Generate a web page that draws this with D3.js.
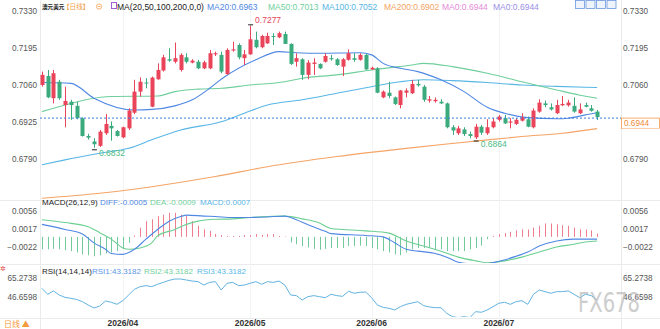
<!DOCTYPE html>
<html>
<head>
<meta charset="utf-8">
<script src="https://cdn.jsdelivr.net/npm/d3@7"></script>
<style>
  body { margin: 0; background: #fff; }
  svg { display: block; font-family: "Liberation Sans", Arial, sans-serif; }
</style>
</head>
<body>
<svg id="chart" width="660" height="329"></svg>
<script>
// first trading day shown, month labels on the time axis
const startDate = '2026-03-12';
const monthTicks = ['2026/04', '2026/05', '2026/06', '2026/07'];

// daily candles, AUD/USD
const open = [.7061,.7094,.7013,.7073,.6988,.7000,.6985,.6940,.6875,.6855,.6839,.6885,.6912,.6893,.6870,.6903,.6960,.7037,.7070,.6982,
  .7082,.7114,.7155,.7146,.7116,.7162,.7143,.7146,.7122,.7122,.7173,.7171,.7101,.7187,.7207,.7159,.7173,.7226,.7199,.7213,
  .7240,.7235,.7247,.7211,.7146,.7155,.7098,.7138,.7138,.7146,.7159,.7155,.7128,.7153,.7159,.7153,.7171,.7118,.7122,.7016,
  .7033,.7016,.6988,.7033,.7031,.7065,.7055,.7004,.7002,.7000,.6994,.6907,.6885,.6899,.6882,.6870,.6909,.6885,.6907,.6934,
  .6940,.6924,.6919,.6931,.6936,.6907,.6964,.6994,.6980,.6958,.6987,.6987,.6985,.6958,.6988,.6976,.6964];
const high = [.7110,.7116,.7116,.7080,.7055,.7007,.7000,.6943,.6883,.6867,.6897,.6955,.6928,.6897,.6909,.6976,.7080,.7089,.7086,.7092,
  .7140,.7171,.7195,.7216,.7177,.7177,.7155,.7153,.7150,.7189,.7183,.7183,.7195,.7219,.7213,.7189,.7277,.7256,.7244,.7252,
  .7250,.7256,.7256,.7213,.7177,.7159,.7152,.7159,.7140,.7177,.7171,.7159,.7159,.7191,.7177,.7177,.7174,.7128,.7126,.7041,
  .7073,.7019,.7043,.7049,.7080,.7080,.7061,.7021,.7016,.7009,.6997,.6915,.6912,.6907,.6891,.6919,.6915,.6936,.6940,.6952,
  .6952,.6940,.6940,.6958,.6946,.6976,.7009,.7004,.6994,.7007,.7021,.7007,.7016,.6994,.6997,.6988,.6970];
const low = [.7055,.7013,.6994,.7007,.6907,.6934,.6936,.6873,.6862,.6832,.6835,.6879,.6858,.6873,.6867,.6897,.6955,.7019,.7049,.6980,
  .7080,.7110,.7146,.7140,.7110,.7140,.7140,.7119,.7119,.7119,.7167,.7104,.7098,.7183,.7155,.7134,.7171,.7195,.7195,.7211,
  .7207,.7232,.7211,.7134,.7128,.7080,.7082,.7098,.7119,.7143,.7150,.7131,.7094,.7150,.7146,.7150,.7116,.7116,.7031,.7013,
  .7013,.6988,.6976,.7016,.7028,.7055,.7000,.6997,.6997,.6992,.6903,.6879,.6879,.6875,.6867,.6864,.6879,.6879,.6903,.6928,
  .6919,.6903,.6915,.6928,.6907,.6903,.6960,.6980,.6968,.6955,.6985,.6982,.6960,.6955,.6980,.6964,.6933];
const close = [.7098,.7016,.7104,.7013,.7003,.6988,.6940,.6875,.6869,.6845,.6891,.6919,.6903,.6875,.6907,.6968,.7037,.7073,.7067,.7088,
  .7116,.7162,.7150,.7159,.7171,.7146,.7150,.7122,.7144,.7177,.7177,.7110,.7189,.7191,.7162,.7173,.7228,.7199,.7240,.7240,
  .7238,.7250,.7211,.7138,.7159,.7098,.7143,.7143,.7122,.7167,.7155,.7134,.7155,.7177,.7153,.7171,.7118,.7124,.7033,.7037,
  .7021,.6992,.7041,.7041,.7065,.7060,.7007,.7009,.7007,.6994,.6907,.6895,.6903,.6882,.6875,.6909,.6887,.6907,.6928,.6946,
  .6921,.6928,.6934,.6943,.6909,.6968,.6997,.6988,.6972,.6988,.6992,.6997,.6964,.6972,.6982,.6967,.6944];

// moving averages as [candle index, value]
const ma20 = [[0,.7070],[5,.7067],[9,.7013],[16,.6970],[19,.6972],[23,.6985],[26,.7007],[29,.7049],[31,.7082],[37,.7153],
  [41,.7183],[44,.7179],[48,.7177],[55,.7179],[57,.7171],[59,.7140],[62,.7122],[65,.7110],[69,.7080],[73,.7037],[77,.6980],
  [80,.6958],[84,.6942],[89,.6938],[91,.6940],[94,.6952],[96,.6960]];
const ma50 = [[0,.6964],[4,.6988],[8,.7009],[12,.7019],[20,.7021],[23,.7037],[27,.7046],[31,.7049],[36,.7061],[42,.7073],
  [45,.7086],[51,.7098],[57,.7116],[64,.7134],[66,.7140],[71,.7128],[77,.7104],[83,.7073],[89,.7043],[93,.7024],[96,.7013]];
const ma100 = [[0,.6770],[4,.6788],[10,.6812],[15,.6830],[19,.6861],[24,.6897],[31,.6927],[35,.6958],[39,.6988],[45,.7007],
  [51,.7031],[57,.7055],[62,.7073],[66,.7080],[71,.7077],[77,.7070],[83,.7061],[89,.7056],[94,.7053],[96,.7052]];
const ma200 = [[0,.6648],[10,.6666],[19,.6690],[30,.6727],[39,.6763],[51,.6800],[63,.6830],[71,.6848],[77,.6861],[83,.6873],
  [90,.6885],[96,.6902]];

// MACD(26,12,9)
const macdHist = [-.0027,-.0027,-.0026,-.0027,-.0029,-.0031,-.0034,-.0038,-.0040,-.0042,-.0040,-.0036,-.0034,-.0031,-.0026,-.0013,
  .0003,.0020,.0034,.0038,.0045,.0048,.0052,.0052,.0048,.0045,.0034,.0024,.0016,.0013,.0006,.0004,.0002,.0002,.0002,.0004,
  .0004,.0006,.0004,.0006,.0006,.0002,.0001,-.0012,-.0016,-.0020,-.0023,-.0026,-.0028,-.0026,-.0024,-.0024,-.0024,-.0020,
  -.0020,-.0019,-.0020,-.0024,-.0027,-.0031,-.0034,-.0038,-.0040,-.0034,-.0027,-.0024,-.0024,-.0024,-.0027,-.0027,-.0031,
  -.0031,-.0031,-.0031,-.0027,-.0024,-.0019,-.0005,.0002,.0006,.0008,.0011,.0014,.0016,.0016,.0020,.0024,.0029,.0029,.0027,
  .0025,.0024,.0020,.0016,.0016,.0014,.0007];
const diff = [[0,.0027],[4,.0016],[7,.0006],[9,-.0013],[11,-.0027],[12,-.0036],[14,-.0038],[16,-.0027],[18,-.0005],[20,.0016],
  [22,.0034],[24,.0044],[25,.0047],[28,.0045],[30,.0044],[33,.0042],[36,.0042],[39,.0043],[42,.0045],[44,.0037],[46,.0026],
  [49,.0012],[50,.0007],[56,.0003],[59,.0000],[61,-.0013],[63,-.0027],[65,-.0031],[68,-.0036],[70,-.0044],[72,-.0055],
  [75,-.0059],[77,-.0058],[80,-.0050],[82,-.0042],[84,-.0033],[86,-.0020],[89,-.0009],[92,-.0005],[94,-.0005],[96,-.0005]];
const dea = [[0,.0037],[4,.0031],[8,.0022],[10,.0009],[12,-.0005],[14,-.0024],[15,-.0027],[17,-.0024],[19,-.0013],[20,.0002],
  [23,.0016],[25,.0027],[27,.0034],[30,.0038],[33,.0039],[36,.0042],[39,.0044],[42,.0045],[45,.0039],[48,.0030],[50,.0018],
  [56,.0013],[60,.0008],[63,-.0009],[66,-.0020],[69,-.0031],[72,-.0044],[75,-.0052],[77,-.0056],[80,-.0052],[83,-.0044],
  [86,-.0033],[89,-.0022],[92,-.0016],[94,-.0011],[96,-.0009]];

// RSI(14,14,14) - the three lines coincide
const rsi = [54.9,49.0,52.3,48.3,46.0,45.1,44.0,41.8,38.5,35.6,37.5,42.5,41.2,39.2,42.8,48.3,53.9,56.5,57.5,56.5,
  58.8,60.7,62.7,64.0,64.0,63.0,62.0,61.4,58.1,60.7,61.4,53.2,59.8,60.7,57.5,58.1,59.8,61.4,58.8,61.4,
  60.7,62.0,58.1,48.3,47.7,43.4,46.7,47.7,46.7,45.7,49.0,47.7,47.0,52.0,50.0,51.0,51.2,45.7,38.5,36.2,
  35.3,33.7,36.9,39.2,40.5,41.8,37.9,36.6,35.9,35.9,30.4,27.1,26.2,27.1,26.2,32.0,31.4,33.7,36.9,40.2,
  41.2,39.2,41.8,42.8,39.2,49.0,53.2,51.6,50.0,51.6,51.6,52.3,49.0,45.7,49.0,47.7,43.3];

const priceTicks = [0.7330, 0.7195, 0.7060, 0.6925, 0.6790];
const macdTicks = [0.0056, 0.0017, -0.0022];
const rsiTicks = [65.2738, 46.6598];
const lastPrice = 0.6944;

const maHeader = ['MA20:0.6963', 'MA50:0.7013', 'MA100:0.7052', 'MA200:0.6902', 'MA0:0.6944', 'MA0:0.6944'];
const macdHeader = ['DIFF:-0.0005', 'DEA:-0.0009', 'MACD:0.0007'];
const rsiHeader = ['RSI1:43.3182', 'RSI2:43.3182', 'RSI3:43.3182'];

// ---------------------------------------------------------------
const RED = '#e9445a', GREEN = '#3bab7e';
const C_MA20 = '#4f88e3', C_MA50 = '#6fcf9c', C_MA100 = '#58b6e6', C_MA200 = '#f4a466';
const svg = d3.select('#chart');
const plotL = 40, plotR = 621;

// trading days (weekdays) from the start date
const dates = [];
let dt = new Date(startDate + 'T00:00:00');
while (dates.length < close.length) {
  if (dt.getDay() !== 0 && dt.getDay() !== 6) dates.push(new Date(dt));
  dt.setDate(dt.getDate() + 1);
}
const fmtMonth = d3.timeFormat('%Y/%m');
const tickIdx = monthTicks.map(m => dates.findIndex(d => fmtMonth(d) === m));

const x = d3.scaleBand().domain(d3.range(close.length)).range([39, 600]);
const cx = i => x(i) + x.bandwidth() / 2;
const yP = d3.scaleLinear().domain([0.6790, 0.7330]).range([159.3, 11.3]);
const yM = d3.scaleLinear().domain([-0.0022, 0.0056]).range([247, 211]);
const yR = d3.scaleLinear().domain([46.6598, 65.2738]).range([296.7, 277.7]);

const defs = svg.append('defs');
[['clipMain', 0, 199], ['clipMacd', 201, 263], ['clipRsi', 265, 317]].forEach(c => {
  defs.append('clipPath').attr('id', c[0]).append('rect')
    .attr('x', plotL).attr('y', c[1]).attr('width', plotR - plotL).attr('height', c[2] - c[1]);
});

// frame lines
const frame = svg.append('g').attr('stroke', '#ebebeb').attr('stroke-width', 1);
[200.5, 264.5, 318.5].forEach(y => frame.append('line').attr('x1', 0).attr('x2', 660).attr('y1', y).attr('y2', y));
[plotL + 0.5, plotR + 0.5].forEach(v => frame.append('line').attr('x1', v).attr('x2', v).attr('y1', 0).attr('y2', 329));
tickIdx.forEach(i => frame.append('line').attr('stroke', '#f4f4f4')
  .attr('x1', Math.round(cx(i)) + 0.5).attr('x2', Math.round(cx(i)) + 0.5).attr('y1', 0).attr('y2', 318));

// ---------- main panel
const main = svg.append('g').attr('clip-path', 'url(#clipMain)');
const maLine = d3.line().x(d => cx(d[0])).y(d => yP(d[1])).curve(d3.curveMonotoneX);
[[ma200, C_MA200], [ma100, C_MA100], [ma50, C_MA50], [ma20, C_MA20]].forEach(m => {
  main.append('path').datum(m[0]).attr('d', maLine).attr('fill', 'none')
    .attr('stroke', m[1]).attr('stroke-width', 1.1);
});

const idx = d3.range(close.length);
const col = i => close[i] >= open[i] ? RED : GREEN;
main.selectAll('line.wick').data(idx).enter().append('line').attr('class', 'wick')
  .attr('x1', i => Math.round(cx(i)) + 0.5).attr('x2', i => Math.round(cx(i)) + 0.5)
  .attr('y1', i => yP(high[i])).attr('y2', i => yP(low[i]))
  .attr('stroke', col).attr('stroke-width', 1);
const bw = 4;
main.selectAll('rect.body').data(idx).enter().append('rect').attr('class', 'body')
  .attr('x', i => Math.round(cx(i)) + 0.5 - bw / 2).attr('width', bw)
  .attr('y', i => yP(Math.max(open[i], close[i])))
  .attr('height', i => Math.max(1, Math.abs(yP(open[i]) - yP(close[i]))))
  .attr('fill', col);

// extreme markers
const hiIdx = d3.maxIndex(high);
const loIdx = d3.minIndex(low);
const loIdx2 = 60 + d3.minIndex(low.slice(60));
const marks = [[hiIdx, high[hiIdx], RED, -3], [loIdx, low[loIdx], '#4dbb86', 8], [loIdx2, low[loIdx2], '#4dbb86', 8]];
marks.forEach(m => {
  const mx = cx(m[0]), my = yP(m[1]);
  svg.append('line').attr('x1', mx - 2).attr('x2', mx + 3).attr('y1', my + (m[3] > 0 ? 2 : -1)).attr('y2', my + (m[3] > 0 ? 2 : -1))
    .attr('stroke', '#222').attr('stroke-width', 1);
  svg.append('text').attr('x', mx + 5).attr('y', my + m[3]).text(m[1].toFixed(4))
    .attr('font-size', 8.5).attr('fill', m[2]);
});

// ---------- MACD panel
const macd = svg.append('g').attr('clip-path', 'url(#clipMacd)');
macd.selectAll('line.hist').data(idx).enter().append('line').attr('class', 'hist')
  .attr('x1', i => Math.round(cx(i)) + 0.5).attr('x2', i => Math.round(cx(i)) + 0.5)
  .attr('y1', yM(0)).attr('y2', i => yM(macdHist[i]))
  .attr('stroke', i => macdHist[i] >= 0 ? '#ee7d90' : '#72c99c').attr('stroke-width', 1);
const mLine = d3.line().x(d => cx(d[0])).y(d => yM(d[1])).curve(d3.curveMonotoneX);
macd.append('path').datum(dea).attr('d', mLine).attr('fill', 'none').attr('stroke', '#6ccf92').attr('stroke-width', 1.1);
macd.append('path').datum(diff).attr('d', mLine).attr('fill', 'none').attr('stroke', '#4f88e3').attr('stroke-width', 1.1);

// ---------- RSI panel
const rsiG = svg.append('g').attr('clip-path', 'url(#clipRsi)');
rsiG.append('path').datum(rsi)
  .attr('d', d3.line().x((d, i) => cx(i)).y(d => yR(d)))
  .attr('fill', 'none').attr('stroke', '#62b3e0').attr('stroke-width', 1);

// ---------- axes
function sideAxes(scale, ticks) {
  const l = svg.append('g').attr('transform', 'translate(' + plotL + ',0)')
    .call(d3.axisLeft(scale).tickValues(ticks).tickSize(0).tickPadding(3).tickFormat(d3.format('.4f')));
  const r = svg.append('g').attr('transform', 'translate(' + plotR + ',0)')
    .call(d3.axisRight(scale).tickValues(ticks).tickSize(0).tickPadding(2).tickFormat(d3.format('.4f')));
  [l, r].forEach(g => {
    g.select('.domain').remove();
    g.selectAll('text').attr('font-size', 8.2).attr('fill', '#555')
      .attr('font-family', '"Liberation Sans", Arial, sans-serif');
  });
}
sideAxes(yP, priceTicks);
sideAxes(yM, macdTicks);
sideAxes(yR, rsiTicks);

const xAxis = svg.append('g').attr('transform', 'translate(0,318)')
  .call(d3.axisBottom(x).tickValues(tickIdx).tickSize(0).tickPadding(2).tickFormat(i => fmtMonth(dates[i])));
xAxis.select('.domain').remove();
xAxis.selectAll('text').attr('font-size', 8.5).attr('font-weight', 'bold').attr('fill', '#333')
  .attr('font-family', '"Liberation Sans", Arial, sans-serif');

// last price line + tag (drawn over the right axis)
const yLast = yP(lastPrice);
svg.append('line').attr('x1', plotL).attr('x2', plotR).attr('y1', yLast + 1).attr('y2', yLast + 1)
  .attr('stroke', '#3d7ee6').attr('stroke-width', 1).attr('stroke-dasharray', '2,2');
svg.append('rect').attr('x', plotR + 0.5).attr('y', yLast + 1).attr('width', 38).attr('height', 10.5)
  .attr('fill', '#fff').attr('stroke', '#f39a4c').attr('stroke-width', 0.8);
svg.append('rect').attr('x', plotR + 1).attr('y', yLast + 11.5).attr('width', 38).attr('height', 2).attr('fill', '#fff');
svg.append('text').attr('x', plotR + 3).attr('y', yLast + 9.4).text(lastPrice.toFixed(4))
  .attr('font-size', 8.2).attr('fill', '#f08a36');

// ---------- headers
const hdr = svg.append('g').attr('font-size', 8.5);
hdr.append('text').attr('x', 42).attr('y', 9).text('澳元美元').attr('font-size', 5.6).attr('font-weight', 'bold')
  .attr('font-family', '"Noto Sans CJK SC", sans-serif').attr('fill', '#222');
hdr.append('text').attr('x', 63).attr('y', 9).text('【日线】').attr('font-size', 6.6)
  .attr('font-family', '"Noto Sans CJK SC", sans-serif').attr('fill', '#f39a3c');
hdr.append('circle').attr('cx', 99).attr('cy', 6.5).attr('r', 2.6).attr('fill', 'none').attr('stroke', '#f3a04e').attr('stroke-width', 0.8);
hdr.append('line').attr('x1', 97.6).attr('x2', 100.4).attr('y1', 6.5).attr('y2', 6.5).attr('stroke', '#f3a04e').attr('stroke-width', 0.8);
hdr.append('rect').attr('x', 111.5).attr('y', 2.5).attr('width', 5).attr('height', 6).attr('fill', 'none')
  .attr('stroke', '#a45cd6').attr('stroke-width', 1);
hdr.append('text').attr('x', 117).attr('y', 9.5).text('MA(20,50,100,200,0,0)').attr('fill', '#222');
const maCols = [C_MA20, C_MA50, C_MA100, C_MA200, '#e58ad8', '#9b8fe6'];
const maX = [207, 268, 322, 384, 442, 493];
maHeader.forEach((t, k) => hdr.append('text').attr('x', maX[k]).attr('y', 9.5).text(t).attr('fill', maCols[k]));
[575, 585.5, 596, 606.5].forEach(v => {
  hdr.append('rect').attr('x', v + 0.5).attr('y', 0.5).attr('width', 9).attr('height', 8)
    .attr('fill', '#eef3fc').attr('stroke', '#6a97dd').attr('stroke-width', 0.8);
});

const mh = svg.append('g').attr('font-size', 8);
mh.append('text').attr('x', 42).attr('y', 205).text('MACD(26,12,9)').attr('fill', '#222');
const macdCols = ['#4f88e3', '#6fcf9c', '#58b6e6'];
[100, 150, 200].forEach((v, k) => mh.append('text').attr('x', v).attr('y', 205).text(macdHeader[k]).attr('fill', macdCols[k]));

const rh = svg.append('g').attr('font-size', 8);
rh.append('text').attr('x', 42).attr('y', 273.5).text('RSI(14,14,14)').attr('fill', '#222');
const rsiCols = ['#5b96e6', '#6fcf9c', '#58b6e6'];
[92, 144, 197].forEach((v, k) => rh.append('text').attr('x', v).attr('y', 273.5).text(rsiHeader[k]).attr('fill', rsiCols[k]));

// watermark and corner labels
svg.append('text').attr('x', 578).attr('y', 312).text('FX678').attr('font-size', 26)
  .attr('textLength', 62).attr('lengthAdjust', 'spacingAndGlyphs')
  .attr('fill', '#bdbdbd').attr('opacity', 0.75).attr('font-family', '"DejaVu Sans", sans-serif');
svg.append('text').attr('x', 4).attr('y', 327).text('日线 ▲').attr('font-size', 8)
  .attr('font-family', '"Noto Sans CJK SC", sans-serif').attr('fill', '#f39a3c');
svg.append('text').attr('x', 0).attr('y', 271).text('✲').attr('font-size', 7)
  .attr('font-family', '"DejaVu Sans", sans-serif').attr('fill', '#e04848');
</script>
</body>
</html>
